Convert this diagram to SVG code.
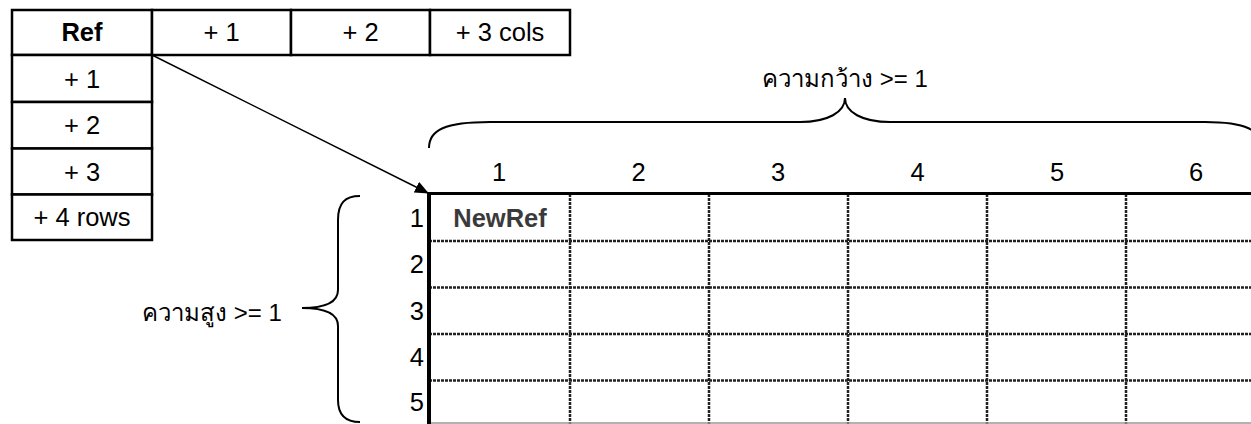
<svg xmlns="http://www.w3.org/2000/svg" width="1251" height="424" viewBox="0 0 1251 424">
  <style>
    .txt { font-family: "Liberation Sans", Arial, "DejaVu Sans", sans-serif; font-size: 25.5px; fill: #000; }
    .thai { font-family: "Liberation Sans", Arial, "DejaVu Sans", sans-serif; font-size: 24px; fill: #000; }
    .bold { font-weight: bold; }
    .mid { text-anchor: middle; dominant-baseline: central; }
    .end { text-anchor: end; dominant-baseline: central; }
    .cell { fill: #fff; stroke: #000; stroke-width: 2.5; }
    .grid { stroke: #222; stroke-width: 2.5; stroke-dasharray: 3 1; fill: none; }
    .brace { fill: none; stroke: #000; stroke-width: 2; }
  </style>
  <defs>
    <marker id="arrowhead" markerWidth="14" markerHeight="12" refX="13" refY="6" orient="auto" markerUnits="userSpaceOnUse">
      <path d="M0,0 L14,6 L0,12 Z" fill="#000"/>
    </marker>
  </defs>
  <rect width="1251" height="424" fill="#fff"/>

  <!-- reference header row -->
  <g id="ref-cols">
    <rect class="cell" x="12" y="10" width="140" height="45"/>
    <rect class="cell" x="152" y="10" width="139" height="45"/>
    <rect class="cell" x="291" y="10" width="139" height="45"/>
    <rect class="cell" x="430" y="10" width="140" height="45"/>
    <text class="txt bold mid" x="82" y="32">Ref</text>
    <text class="txt mid" x="221.5" y="32">+ 1</text>
    <text class="txt mid" x="360.5" y="32">+ 2</text>
    <text class="txt mid" x="500" y="32">+ 3 cols</text>
  </g>

  <!-- row offsets -->
  <g id="ref-rows">
    <rect class="cell" x="12" y="55" width="140" height="47"/>
    <rect class="cell" x="12" y="102" width="140" height="46.5"/>
    <rect class="cell" x="12" y="148.5" width="140" height="46"/>
    <rect class="cell" x="12" y="194.5" width="140" height="45.5"/>
    <text class="txt mid" x="82" y="78.5">+ 1</text>
    <text class="txt mid" x="82" y="125">+ 2</text>
    <text class="txt mid" x="82" y="171.5">+ 3</text>
    <text class="txt mid" x="82" y="217">+ 4 rows</text>
  </g>

  <!-- resulting range -->
  <g id="new-range">
    <g class="grid">
      <line x1="570" y1="194" x2="570" y2="424"/>
      <line x1="709" y1="194" x2="709" y2="424"/>
      <line x1="848" y1="194" x2="848" y2="424"/>
      <line x1="987" y1="194" x2="987" y2="424"/>
      <line x1="1126" y1="194" x2="1126" y2="424"/>
      <line x1="429" y1="241" x2="1251" y2="241"/>
      <line x1="429" y1="287.5" x2="1251" y2="287.5"/>
      <line x1="429" y1="334" x2="1251" y2="334"/>
      <line x1="429" y1="380.5" x2="1251" y2="380.5"/>
    </g>
    <line x1="429" y1="423" x2="1251" y2="423" stroke="#999" stroke-width="1.5"/>
    <line x1="427" y1="193.5" x2="1251" y2="193.5" stroke="#000" stroke-width="3"/>
    <line x1="429" y1="192" x2="429" y2="424" stroke="#000" stroke-width="4"/>
    <text class="txt bold mid" x="500" y="217.5" style="fill:#3a3a3a">NewRef</text>
    <text class="txt mid" x="499" y="172">1</text>
    <text class="txt mid" x="638.5" y="172">2</text>
    <text class="txt mid" x="778" y="172">3</text>
    <text class="txt mid" x="917.5" y="172">4</text>
    <text class="txt mid" x="1057" y="172">5</text>
    <text class="txt mid" x="1196" y="172">6</text>
    <text class="txt end" x="424" y="217.5">1</text>
    <text class="txt end" x="424" y="264">2</text>
    <text class="txt end" x="424" y="310.5">3</text>
    <text class="txt end" x="424" y="357">4</text>
    <text class="txt end" x="424" y="402">5</text>
  </g>

  <!-- width annotation -->
  <g id="width-label">
    <path class="brace" d="M429,148 C429,130 445,122 490,122 L800,122 C828,122 845,112 845,98 C845,112 862,122 890,122 L1205,122 C1245,122 1262,130 1262,148"/>
    <text class="thai mid" x="845" y="78">ความกว้าง &gt;= 1</text>
  </g>

  <!-- height annotation -->
  <g id="height-label">
    <path class="brace" d="M360,196 C345,196 338,203 338,220 L338,290 C338,302 325,308 302,308 C325,308 338,314 338,326 L338,400 C338,415 345,422 360,422"/>
    <text class="thai mid" x="212" y="312">ความสูง &gt;= 1</text>
  </g>

  <!-- offset arrow -->
  <g id="connectors">
    <line x1="152" y1="55" x2="428" y2="193" stroke="#000" stroke-width="1.5" marker-end="url(#arrowhead)"/>
  </g>
</svg>
